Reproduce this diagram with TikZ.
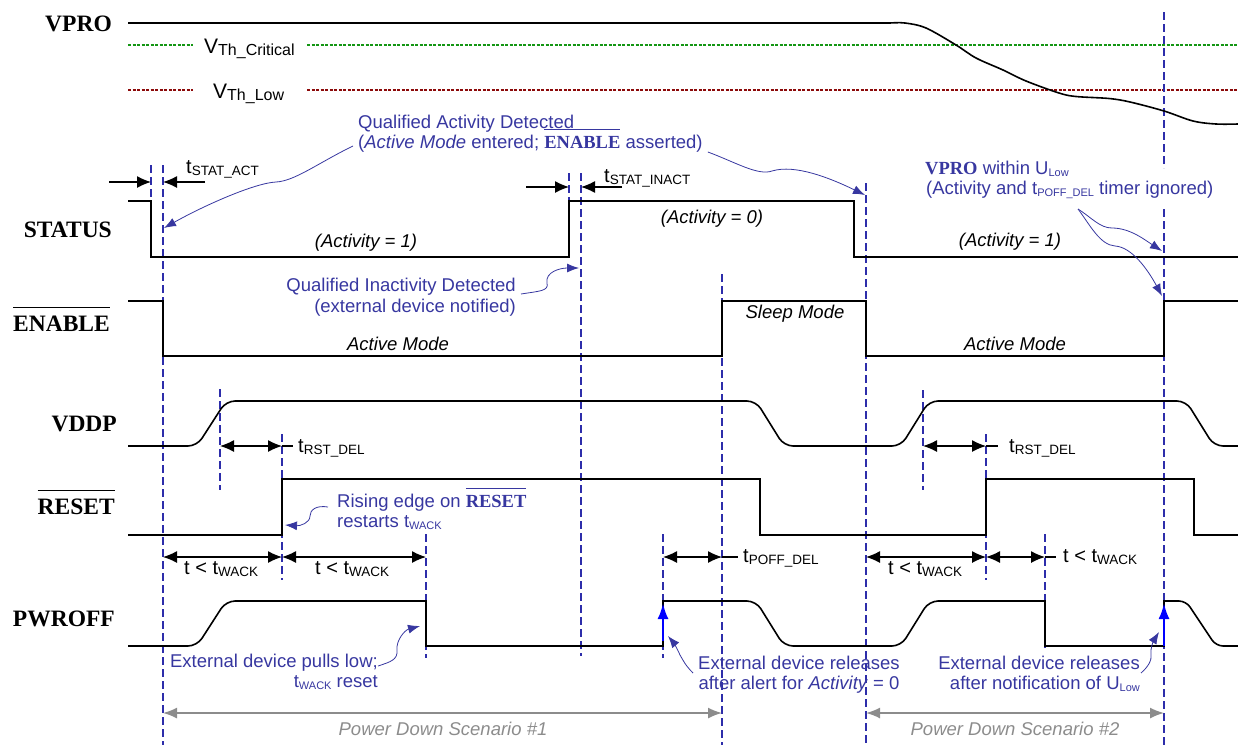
\documentclass[tikz,border=0pt]{standalone}
\usepackage{fontspec}
\setmainfont{Liberation Serif}
\setsansfont{Liberation Sans}
\usetikzlibrary{arrows.meta,calc}
\definecolor{annot}{RGB}{55,55,160}
\definecolor{dashblue}{RGB}{45,45,170}
\definecolor{thgreen}{RGB}{20,150,20}
\definecolor{thred}{RGB}{140,10,10}
\definecolor{pdgray}{RGB}{140,140,140}
\definecolor{upblue}{RGB}{0,0,255}
\newcommand\sbs[2][13.5]{\raisebox{-2.5pt}{\fontsize{#1}{#1}\selectfont #2}}
\newcommand\ovb[1]{\leavevmode\vbox{\hrule height 0.075em\kern0.3em\hbox{\rmfamily\bfseries #1}}}
\begin{document}
\begin{tikzpicture}[x=1pt,y=-1pt,
  sig/.style={line width=1.6pt, line join=miter},
  vdash/.style={dashblue, line width=1.3pt, dash pattern=on 8pt off 4pt},
  dimarr/.style={line width=1.2pt, {Latex[length=14pt,width=12pt]}-{Latex[length=14pt,width=12pt]}},
  onearr/.style={line width=1.2pt, -{Latex[length=14pt,width=12pt]}},
  annarr/.style={annot, line width=0.8pt, -{Latex[length=12pt,width=9pt]}},
  pdarr/.style={pdgray, line width=1.6pt, {Latex[length=14pt,width=11pt]}-{Latex[length=14pt,width=11pt]}},
  uparr/.style={upblue, line width=2.6pt, -{Latex[length=16pt,width=11pt]}},
  siglabel/.style={font=\fontsize{23.5}{23.5}\selectfont\bfseries, anchor=base east, inner sep=0pt},
  ann/.style={font=\sffamily\fontsize{18.5}{20}\selectfont, text=annot, inner sep=0pt},
  tl/.style={font=\sffamily\fontsize{20}{20}\selectfont, inner sep=0pt, anchor=base west},
  itl/.style={font=\sffamily\itshape\fontsize{18.5}{20}\selectfont, inner sep=0pt, anchor=base},
  pdl/.style={font=\sffamily\itshape\fontsize{18.5}{20}\selectfont, text=pdgray, inner sep=0pt, anchor=base},
  vth/.style={font=\sffamily\fontsize{21}{21}\selectfont, inner sep=0pt, anchor=base west}
]
\useasboundingbox (0,0) rectangle (1238,745);

% ---------- signal names
\node[siglabel] (lvpro) at (112,31) {VPRO};
\node[siglabel] (lstatus) at (112,237) {STATUS};
\node[siglabel] (lenable) at (110,331) {\ovb{ENABLE}};
\node[siglabel] (lvddp) at (117,431) {VDDP};
\node[siglabel] (lreset) at (115,514) {\ovb{RESET}};
\node[siglabel] (lpwroff) at (115,626) {PWROFF};

% ---------- thresholds
\draw[thgreen, line width=1.4pt, dash pattern=on 3pt off 1.5pt] (128,45) -- (193,45) (307,45) -- (1238,45);
\draw[thred, line width=1.4pt, dash pattern=on 3pt off 1.5pt] (128,90) -- (193,90) (307,90) -- (1238,90);
\node[vth] (vcrit) at (204,53) {V\sbs[16]{Th\_Critical}};
\node[vth] (vlow) at (213,98) {V\sbs[16]{Th\_Low}};

% ---------- vertical dashed markers
\draw[vdash] (151,165) -- (151,211);
\draw[vdash] (163,165) -- (163,745);
\draw[vdash] (220,389) -- (220,490);
\draw[vdash] (282,434) -- (282,580);
\draw[vdash] (426,534) -- (426,658);
\draw[vdash] (569,173) -- (569,228);
\draw[vdash] (581,173) -- (581,656);
\draw[vdash] (663,534) -- (663,658);
\draw[vdash] (722,274) -- (722,745);
\draw[vdash] (866,183) -- (866,745);
\draw[vdash] (923,390) -- (923,490);
\draw[vdash] (986,434) -- (986,580);
\draw[vdash] (1045,534) -- (1045,648);
\draw[vdash] (1164,12) -- (1164,168);
\draw[vdash] (1164,209) -- (1164,745);

% ---------- waveforms
\draw[sig] (128,23) -- (890,23);
\draw[sig] plot[smooth,tension=0.55] coordinates {(890,23) (905,23) (926,28) (956,45) (976,58) (1003,70) (1026,81) (1059,93) (1076,96.5) (1109,98.5) (1130,102) (1164,111) (1193,121) (1216,124) (1238,124)};

\draw[sig] (128,201) -- (151,201) -- (151,257) -- (569,257) -- (569,201) -- (854,201) -- (854,257) -- (1238,257);

\draw[sig] (128,301) -- (163,301) -- (163,356) -- (722,356) -- (722,301) -- (866,301) -- (866,356) -- (1164,356) -- (1164,301) -- (1238,301);

\draw[sig, rounded corners=9pt] (128,446) -- (197,446) -- (226,401) -- (756,401) -- (784,446) -- (901,446) -- (929,401) -- (1186,401) -- (1214,446) -- (1238,446);

\draw[sig] (128,535) -- (282,535) -- (282,479) -- (760,479) -- (760,535) -- (986,535) -- (986,479) -- (1194,479) -- (1194,535) -- (1238,535);

\draw[sig, rounded corners=9pt] (128,646) -- (197,646) -- (226,601) -- (320,601);
\draw[sig] (320,601) -- (426,601) -- (426,646) -- (663,646) -- (663,601) -- (700,601);
\draw[sig, rounded corners=9pt] (700,601) -- (756,601) -- (784,646) -- (901,646) -- (929,601) -- (1000,601);
\draw[sig] (1000,601) -- (1045,601) -- (1045,646) -- (1164,646) -- (1164,601) -- (1172,601);
\draw[sig, rounded corners=7pt] (1172,601) -- (1186,601) -- (1216,646) -- (1238,646);

\draw[uparr] (663,641) -- (663,603);
\draw[uparr] (1164,646) -- (1164,603);

% ---------- in-waveform labels
\node[itl] (act1) at (366,247) {(Activity = 1)};
\node[itl] (act0) at (712,223) {(Activity = 0)};
\node[itl] (act2) at (1010,246) {(Activity = 1)};
\node[itl] (am1) at (398,350) {Active Mode};
\node[itl] (sm) at (795,318) {Sleep Mode};
\node[itl] (am2) at (1015,350) {Active Mode};

% ---------- timing dimensions
\draw[onearr] (109,182) -- (151,182);
\draw[onearr] (205,182) -- (163,182);
\node[tl] (tstatact) at (186,173) {t\sbs{STAT\_ACT}};
\draw[onearr] (526,187) -- (569,187);
\draw[onearr] (622,187) -- (581,187);
\node[tl] (tstatinact) at (604,182) {t\sbs{STAT\_INACT}};

\draw[dimarr] (220,446) -- (282,446);
\draw[line width=1.2pt] (282,446) -- (293,446);
\node[tl] (trst1) at (298,452) {t\sbs{RST\_DEL}};
\draw[dimarr] (923,446) -- (986,446);
\draw[line width=1.2pt] (986,446) -- (998,446);
\node[tl] (trst2) at (1009,452) {t\sbs{RST\_DEL}};

\draw[dimarr] (163,557) -- (282,557);
\draw[dimarr] (282,557) -- (426,557);
\node[tl] (tw1) at (184,574) {t < t\sbs{WACK}};
\node[tl] (tw2) at (315,574) {t < t\sbs{WACK}};
\draw[dimarr] (663,557) -- (722,557);
\draw[line width=1.2pt] (722,557) -- (738,557);
\node[tl] (tpoff) at (743,562) {t\sbs{POFF\_DEL}};
\draw[dimarr] (866,557) -- (986,557);
\draw[dimarr] (986,557) -- (1045,557);
\draw[line width=1.2pt] (1045,557) -- (1056,557);
\node[tl] (tw3) at (888,574) {t < t\sbs{WACK}};
\node[tl] (tw4) at (1063,562) {t < t\sbs{WACK}};

% ---------- power-down spans
\draw[pdarr] (163,713) -- (722,713);
\node[pdl] (pd1) at (443,735) {Power Down Scenario \#1};
\draw[pdarr] (866,713) -- (1164,713);
\node[pdl] (pd2) at (1015,735) {Power Down Scenario \#2};

% ---------- annotations
\node[ann, anchor=base west] (q1a) at (358,128) {Qualified Activity Detected};
\node[ann, anchor=base west] (q1b) at (358,148) {(\textit{Active Mode} entered; \ovb{ENABLE} asserted)};
\node[ann, anchor=base east] (q2a) at (516,291) {Qualified Inactivity Detected};
\node[ann, anchor=base east] (q2b) at (516,312) {(external device notified)};
\node[ann, anchor=base west] (r1) at (337,507) {Rising edge on \ovb{RESET}};
\node[ann, anchor=base west] (r2) at (337,527) {restarts t\sbs[11]{WACK}};
\node[ann, anchor=base east] (e1a) at (378,667) {External device pulls low;};
\node[ann, anchor=base east] (e1b) at (378,687) {t\sbs[11]{WACK} reset};
\node[ann, anchor=base] (e2a) at (799,669) {External device releases};
\node[ann, anchor=base] (e2b) at (799,689) {after alert for \textit{Activity} = 0};
\node[ann, anchor=base east] (e3a) at (1140,669) {External device releases};
\node[ann, anchor=base east] (e3b) at (1140,689) {after notification of U\sbs[11]{Low}};
\node[ann, anchor=base west] (v1) at (925,174) {{\rmfamily\bfseries VPRO} within U\sbs[11]{Low}};
\node[ann, anchor=base west] (v2) at (926,194) {(Activity and t\sbs[11]{POFF\_DEL} timer ignored)};

% targets
\coordinate (tg1) at (164,228);
\coordinate (tg2) at (865,195);
\coordinate (tg3) at (579,268);
\coordinate (tg4) at (285,525);
\coordinate (tg5) at (420,626);
\coordinate (tg6) at (668,636);
\coordinate (tg7) at (1159,632);
\coordinate (tg8) at (1162,251);
\coordinate (tg9) at (1162,296);

\draw[annarr] ($(q1b.base west)+(-5,-2)$) .. controls (318,163) and (295,181) .. (276,182) .. controls (255,183) and (205,205) .. (tg1);
\draw[annarr] ($(q1b.base east)+(5,4)$) .. controls (735,162) and (758,176) .. (772,171) .. controls (795,164) and (830,178) .. (tg2);
\draw[annarr] ($(q2a.base east)+(5,3)$) .. controls (540,291) and (549,291) .. (547,283) .. controls (545,272) and (560,268) .. (tg3);
\draw[annarr] ($(r1.base west)+(-9,0)$) .. controls (316,505) and (310,510) .. (310,516) .. controls (310,523) and (300,526) .. (tg4);
\draw[annarr] ($(e1a.base east)+(0,-1)$) .. controls (390,662) and (398,660) .. (397,650) .. controls (396,640) and (405,630) .. (tg5);
\draw[annarr] ($(e2a.base west)+(-5,4)$) .. controls (685,665) and (683,660) .. (680,655) .. controls (677,648) and (673,642) .. (tg6);
\draw[annarr] ($(e3a.base east)+(1,4)$) .. controls (1148,667) and (1152,660) .. (1151,655) .. controls (1150,648) and (1154,640) .. (tg7);
\coordinate (vsrc) at ($(v2.base west)+(152,15)$);
\draw[annarr] (vsrc) .. controls (1092,218) and (1100,228) .. (1112,228) .. controls (1130,228) and (1145,240) .. (tg8);
\draw[annarr] (vsrc) .. controls (1090,225) and (1100,245) .. (1115,246) .. controls (1132,247) and (1148,270) .. (tg9);
\end{tikzpicture}
\end{document}
